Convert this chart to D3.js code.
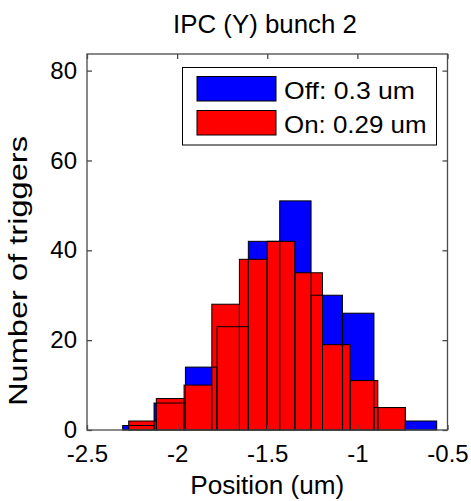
<!DOCTYPE html>
<html>
<head>
<meta charset="utf-8">
<script src="https://cdn.jsdelivr.net/npm/d3@7"></script>
<style>
  html, body { margin: 0; padding: 0; background: #fff; }
  svg { display: block; }
  text { font-family: "Liberation Sans", Arial, Helvetica, sans-serif; fill: #000; }
</style>
</head>
<body>
<svg id="chart" width="471" height="501"></svg>
<script>
// ---- data ----
const titleText = "IPC (Y) bunch 2";
const xLabelText = "Position (um)";
const yLabelText = "Number of triggers";
const offCenters = [-2.215, -2.041, -1.867, -1.692, -1.518, -1.344, -1.170, -0.995, -0.821, -0.647];
const offCounts  = [1, 6, 14, 23, 42, 51, 30, 26, 5, 2];
const onCenters  = [-2.192, -2.039, -1.885, -1.731, -1.578, -1.424, -1.270, -1.117, -0.963, -0.810];
const onCounts   = [2, 7, 10, 28, 38, 42, 35, 19, 11, 5];
const xTicks = [-2.5, -2, -1.5, -1, -0.5];
const xTickLabels = ["-2.5", "-2", "-1.5", "-1", "-0.5"];
const yTicks = [0, 20, 40, 60, 80];
const yTickLabels = ["0", "20", "40", "60", "80"];
const legendLabels = ["Off: 0.3 um", "On: 0.29 um"];
const seriesColors = ["#0000ff", "#ff0000"];
const xDomain = [-2.5, -0.5];
const yDomain = [0, 83.7];

// ---- layout ----
const L = 87, R = 447.5, T = 54, B = 430;
const svg = d3.select("#chart");
const x = d3.scaleLinear().domain(xDomain).range([L, R]);
const y = d3.scaleLinear().domain(yDomain).range([B, T]);

const series = [
  {centers: offCenters, counts: offCounts, color: seriesColors[0]},
  {centers: onCenters, counts: onCounts, color: seriesColors[1]}
];
function binsOf(s) {
  const w = s.centers[1] - s.centers[0];
  return s.centers.map((c, i) => ({x0: c - w / 2, x1: c + w / 2, v: s.counts[i], color: s.color}));
}

// fills first (Off then On), then all outlines on top
const gFill = svg.append("g");
const gEdge = svg.append("g");
series.forEach(s => {
  const bins = binsOf(s);
  gFill.selectAll(null).data(bins).enter().append("rect")
    .attr("x", d => x(d.x0)).attr("width", d => x(d.x1) - x(d.x0))
    .attr("y", d => y(d.v)).attr("height", d => y(0) - y(d.v))
    .attr("fill", d => d.color);
});
series.forEach(s => {
  const bins = binsOf(s);
  gEdge.selectAll(null).data(bins).enter().append("rect")
    .attr("x", d => x(d.x0)).attr("width", d => x(d.x1) - x(d.x0))
    .attr("y", d => y(d.v)).attr("height", d => y(0) - y(d.v))
    .attr("fill", "none").attr("stroke", "#000").attr("stroke-width", 1);
});

// axes box with inward ticks
const axisColor = "#4a4a4a";
const tickLen = 5;
const axB = d3.axisBottom(x).tickValues(xTicks).tickSize(-tickLen).tickFormat((d, i) => xTickLabels[i]).tickPadding(tickLen + 10);
const axT = d3.axisTop(x).tickValues(xTicks).tickSize(-tickLen).tickFormat("");
const axL = d3.axisLeft(y).tickValues(yTicks).tickSize(-tickLen).tickFormat((d, i) => yTickLabels[i]).tickPadding(tickLen + 5);
const axR = d3.axisRight(y).tickValues(yTicks).tickSize(-tickLen).tickFormat("");

function styleAxis(g) {
  g.select(".domain").remove();
  g.selectAll(".tick line").attr("stroke", axisColor).attr("stroke-width", 1.3);
  g.selectAll(".tick text").style("font-family", '"Liberation Sans", Arial, sans-serif').attr("fill", "#000");
}
svg.append("g").attr("transform", `translate(0,${B})`).call(axB).call(styleAxis)
  .selectAll(".tick text").attr("font-size", 24).attr("dy", "0.71em");
svg.append("g").attr("transform", `translate(0,${T})`).call(axT).call(styleAxis);
svg.append("g").attr("transform", `translate(${L},0)`).call(axL).call(styleAxis)
  .selectAll(".tick text").attr("font-size", 24);
svg.append("g").attr("transform", `translate(${R},0)`).call(axR).call(styleAxis);

svg.append("rect").attr("x", L).attr("y", T).attr("width", R - L).attr("height", B - T)
  .attr("fill", "none").attr("stroke", axisColor).attr("stroke-width", 1.3);

// title & labels
svg.append("text").attr("x", 265).attr("y", 33).attr("text-anchor", "middle")
  .attr("font-size", 25).attr("textLength", 184).attr("lengthAdjust", "spacingAndGlyphs").text(titleText);
svg.append("text").attr("x", (L + R) / 2).attr("y", 494).attr("text-anchor", "middle")
  .attr("font-size", 26).attr("textLength", 154).attr("lengthAdjust", "spacingAndGlyphs").text(xLabelText);
svg.append("text").attr("transform", `translate(27,271) rotate(-90)`).attr("text-anchor", "middle")
  .attr("font-size", 26).attr("textLength", 270).attr("lengthAdjust", "spacingAndGlyphs").text(yLabelText);

// legend
const legendWidths = [131, 142.5];
const lg = svg.append("g");
lg.append("rect").attr("x", 182.5).attr("y", 67.5).attr("width", 254).attr("height", 77.5)
  .attr("fill", "#fff").attr("stroke", "#000").attr("stroke-width", 1);
legendLabels.forEach((lab, i) => {
  const yy = 76.5 + i * 34;
  lg.append("rect").attr("x", 197).attr("y", yy).attr("width", 79).attr("height", 24.5)
    .attr("fill", seriesColors[i]).attr("stroke", "#000").attr("stroke-width", 1);
  lg.append("text").attr("x", 284).attr("y", yy + 22).attr("font-size", 24)
    .attr("textLength", legendWidths[i]).attr("lengthAdjust", "spacingAndGlyphs").text(lab);
});
</script>
</body>
</html>
